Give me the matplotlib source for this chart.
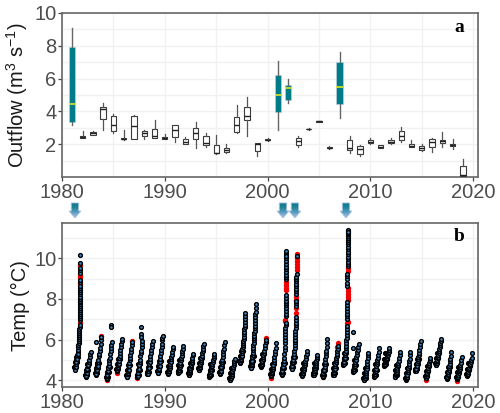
import numpy as np
import matplotlib
matplotlib.use('Agg')
import matplotlib.pyplot as plt
from matplotlib.colors import LinearSegmentedColormap
from matplotlib.patches import Polygon
from matplotlib.transforms import blended_transform_factory

plt.rcParams['font.family'] = ['Liberation Sans', 'DejaVu Sans']
plt.rcParams['mathtext.fontset'] = 'custom'
plt.rcParams['mathtext.rm'] = 'Liberation Sans'
plt.rcParams['mathtext.default'] = 'regular'

# outflow box statistics, one row per year
box_years = list(range(1981, 2020))
whisker_low = [3.2, 2.4, 2.6, 2.85, 2.7, 2.25, 2.3, 2.3, 2.4, 2.3, 2.15, 2.05, 1.8, 1.85, 1.4, 1.5, 2.7, 2.5, 1.3, 2.2,
               2.9, 4.53, 1.84, 2.9, 3.38, 1.7, 3.58, 1.5, 1.3, 2.0, 1.76, 2.04, 2.17, 1.82, 1.62, 1.56, 1.86, 1.7, 0.05]
box_q1 = [3.35, 2.4, 2.6, 3.55, 2.8, 2.3, 2.35, 2.5, 2.4, 2.35, 2.45, 2.05, 2.3, 1.95, 1.45, 1.55, 2.75, 3.5, 1.62, 2.24,
          3.95, 4.7, 1.98, 2.91, 3.39, 1.76, 4.43, 1.66, 1.44, 2.06, 1.78, 2.06, 2.27, 1.84, 1.66, 1.86, 2.06, 1.92, 0.08]
box_med = [4.45, 2.45, 2.7, 4.15, 3.2, 2.35, 3.1, 2.7, 2.5, 2.4, 2.85, 2.15, 2.7, 2.1, 1.5, 1.65, 3.2, 3.75, 2.0, 2.29,
           5.02, 5.43, 2.19, 2.93, 3.4, 1.8, 5.5, 1.78, 1.7, 2.17, 1.86, 2.17, 2.53, 1.92, 1.78, 2.13, 2.19, 1.98, 0.12]
box_q3 = [7.9, 2.5, 2.75, 4.25, 3.75, 2.4, 3.7, 2.8, 2.95, 2.45, 3.15, 2.35, 3.0, 2.5, 1.95, 1.8, 3.65, 4.3, 2.06, 2.33,
          6.23, 5.6, 2.37, 2.96, 3.42, 1.86, 7.0, 2.29, 1.88, 2.25, 1.94, 2.27, 2.79, 2.0, 1.9, 2.33, 2.27, 2.05, 0.67]
whisker_high = [9.1, 2.8, 2.8, 4.5, 3.85, 2.9, 3.8, 2.85, 3.5, 2.65, 3.2, 2.45, 3.35, 2.7, 2.6, 2.0, 4.4, 4.9, 2.1, 2.4,
                7.08, 6.0, 2.5, 2.98, 3.44, 1.92, 7.6, 2.5, 1.96, 2.37, 1.98, 2.41, 3.08, 2.27, 2.0, 2.36, 2.75, 2.3, 1.09]
wet_years = [1981, 2001, 2002, 2007]
arrow_years = [1981.26, 2001.5, 2002.66, 2007.63]

# temperature profiles per year: fraction of the year and temperature
frac_1981 = [.26, .27, .29, .31, .33, .35, .37, .39, .41, .44, .46, .49, .51, .53, .55, .58, .6, .62, .64, .66, .67, .68, .69, .7, .7, .71, .71, .72, .72, .73, .73, .74, .74, .74, .75, .75, .75, .75, .76, .76, .76, .76, .77, .77, .77, .77, .78, .78, .78, .78, .78]
temp_1981 = [4.55, 4.6, 4.52, 4.72, 4.66, 4.85, 4.78, 4.98, 4.92, 5.12, 5.05, 5.22, 5.38, 5.3, 5.5, 5.62, 5.72, 5.82, 5.92, 6.02, 6.12, 6.22, 6.32, 6.42, 6.52, 6.62, 6.7, 6.95, 7.05, 7.15, 7.25, 7.35, 7.45, 7.55, 7.65, 7.74, 7.83, 7.92, 8.02, 8.12, 8.22, 8.32, 8.42, 8.52, 8.62, 8.82, 8.92, 9.28, 9.4, 9.52, 9.76]
frac_1982 = [.33, .34, .36, .37, .39, .41, .43, .45, .47, .5, .53, .56, .6, .64, .7, .75, .79]
temp_1982 = [4.18, 4.26, 4.22, 4.34, 4.42, 4.38, 4.5, 4.6, 4.54, 4.7, 4.8, 4.74, 4.9, 5.02, 5.14, 5.28, 5.41]
frac_1983 = [.3, .31, .33, .34, .36, .38, .41, .43, .46, .49, .52, .56, .6, .65, .7, .75, .8, .83, .3]
temp_1983 = [4.26, 4.34, 4.3, 4.44, 4.54, 4.5, 4.66, 4.74, 4.7, 4.88, 5.02, 5.18, 5.3, 5.46, 5.6, 5.8, 5.98, 6.12, 5.9]
frac_1984 = [.34, .35, .37, .38, .4, .42, .44, .46, .48, .5, .53, .56, .6, .64, .68, .72, .76, .8, .83, .77, .78]
temp_1984 = [4.07, 4.14, 4.1, 4.22, 4.3, 4.26, 4.4, 4.5, 4.44, 4.6, 4.72, 4.84, 4.98, 5.12, 5.28, 5.42, 5.58, 5.74, 5.9, 6.7, 6.6]
frac_1985 = [.35, .36, .38, .39, .41, .43, .45, .47, .5, .53, .56, .6, .64, .68, .72, .76, .8, .83]
temp_1985 = [4.46, 4.52, 4.5, 4.6, 4.68, 4.64, 4.76, 4.86, 4.8, 4.96, 5.08, 5.2, 5.34, 5.48, 5.62, 5.78, 5.92, 6.02]
frac_1986 = [.32, .33, .35, .36, .38, .4, .42, .44, .47, .5, .53, .57, .61, .65, .69, .73, .77, .81]
temp_1986 = [4.15, 4.22, 4.18, 4.3, 4.38, 4.34, 4.48, 4.58, 4.52, 4.7, 4.84, 4.98, 5.1, 5.26, 5.4, 5.56, 5.72, 5.88]
frac_1987 = [.33, .34, .36, .37, .39, .41, .43, .45, .48, .51, .54, .58, .62, .66, .7, .74, .78, .81, .73, .73, .72]
temp_1987 = [4.18, 4.26, 4.22, 4.34, 4.42, 4.38, 4.52, 4.62, 4.56, 4.74, 4.88, 5.02, 5.18, 5.32, 5.46, 5.62, 5.78, 5.93, 6.62, 6.3, 6.14]
frac_1988 = [.3, .31, .33, .34, .36, .38, .4, .42, .45, .48, .52, .56, .6, .65, .7, .74, .78, .82]
temp_1988 = [4.3, 4.36, 4.32, 4.44, 4.5, 4.46, 4.58, 4.66, 4.62, 4.78, 4.9, 5.06, 5.2, 5.34, 5.48, 5.62, 5.78, 5.92]
frac_1989 = [.34, .35, .37, .38, .4, .42, .44, .46, .49, .52, .55, .58, .62, .65, .69, .72, .75, .77, .79]
temp_1989 = [4.34, 4.42, 4.38, 4.5, 4.6, 4.54, 4.68, 4.78, 4.72, 4.9, 5.04, 5.2, 5.36, 5.5, 5.66, 5.8, 5.96, 6.08, 6.2]
frac_1990 = [.31, .32, .34, .35, .37, .39, .41, .43, .46, .49, .52, .56, .6, .64, .68, .72, .76, .79]
temp_1990 = [4.33, 4.4, 4.36, 4.46, 4.52, 4.48, 4.58, 4.66, 4.62, 4.72, 4.82, 4.92, 5.04, 5.14, 5.26, 5.38, 5.52, 5.64]
frac_1991 = [.31, .32, .34, .35, .37, .39, .41, .43, .46, .49, .52, .55, .59, .63, .67, .71, .74, .77]
temp_1991 = [4.38, 4.44, 4.4, 4.5, 4.56, 4.52, 4.6, 4.68, 4.64, 4.76, 4.86, 4.98, 5.08, 5.2, 5.32, 5.44, 5.56, 5.68]
frac_1992 = [.32, .33, .35, .36, .38, .4, .42, .44, .47, .5, .53, .57, .6, .63, .66, .69, .72, .74]
temp_1992 = [4.26, 4.32, 4.28, 4.36, 4.44, 4.4, 4.48, 4.56, 4.52, 4.6, 4.68, 4.76, 4.84, 4.92, 5.02, 5.12, 5.22, 5.31]
frac_1993 = [.32, .33, .35, .36, .38, .4, .42, .44, .47, .5, .53, .56, .6, .64, .68, .72, .76, .81]
temp_1993 = [4.5, 4.56, 4.52, 4.6, 4.68, 4.64, 4.74, 4.82, 4.78, 4.9, 5.0, 5.1, 5.2, 5.32, 5.44, 5.56, 5.68, 5.8]
frac_1994 = [.33, .34, .36, .37, .39, .41, .43, .45, .48, .51, .54, .58, .62, .66, .7, .74, .78, .81]
temp_1994 = [4.18, 4.24, 4.2, 4.28, 4.36, 4.32, 4.42, 4.5, 4.46, 4.56, 4.64, 4.72, 4.82, 4.9, 5.0, 5.1, 5.2, 5.28]
frac_1995 = [.36, .37, .39, .4, .42, .44, .46, .48, .51, .54, .57, .6, .64, .67, .7, .73, .77, .82]
temp_1995 = [4.31, 4.38, 4.34, 4.44, 4.52, 4.48, 4.6, 4.7, 4.64, 4.78, 4.9, 5.02, 5.16, 5.28, 5.42, 5.56, 5.72, 5.87]
frac_1996 = [.34, .35, .37, .38, .4, .42, .44, .46, .49, .52, .55, .58, .62, .66, .7, .74, .78, .82]
temp_1996 = [4.0, 4.06, 4.03, 4.1, 4.16, 4.12, 4.2, 4.26, 4.22, 4.32, 4.4, 4.48, 4.58, 4.66, 4.76, 4.86, 4.96, 5.05]
frac_1997 = [.31, .32, .34, .36, .38, .4, .42, .45, .48, .5, .53, .55, .58, .6, .62, .64, .66, .68, .7, .72, .74, .76, .78, .8, .81, .82, .83]
temp_1997 = [4.84, 4.92, 4.88, 5.0, 5.08, 5.04, 5.16, 5.24, 5.2, 5.34, 5.44, 5.54, 5.64, 5.74, 5.84, 5.94, 6.04, 6.14, 6.26, 6.38, 6.5, 6.62, 6.74, 6.88, 7.02, 7.16, 7.3]
frac_1998 = [.35, .36, .38, .4, .42, .44, .46, .48, .5, .52, .54, .56, .58, .6, .62, .64, .66, .68, .7, .72, .74, .76, .78, .79, .8, .81, .82, .83, .84, .84]
temp_1998 = [4.59, 4.66, 4.62, 4.74, 4.84, 4.78, 4.92, 5.02, 4.96, 5.14, 5.24, 5.36, 5.48, 5.6, 5.72, 5.84, 5.96, 6.08, 6.2, 6.32, 6.44, 6.56, 6.68, 6.82, 6.96, 7.1, 7.24, 7.38, 7.54, 7.76]
frac_1999 = [.36, .37, .39, .4, .42, .44, .46, .48, .5, .53, .56, .6, .64, .68, .72, .76, .8, .84]
temp_1999 = [4.67, 4.72, 4.7, 4.76, 4.84, 4.8, 4.9, 4.98, 4.94, 5.04, 5.14, 5.24, 5.36, 5.46, 5.58, 5.72, 5.86, 5.98]
frac_2000 = [.33, .34, .36, .37, .39, .41, .43, .45, .48, .51, .54, .58, .62, .66, .7, .74, .78, .82]
temp_2000 = [4.22, 4.3, 4.26, 4.36, 4.44, 4.4, 4.5, 4.58, 4.54, 4.66, 4.76, 4.88, 5.0, 5.14, 5.28, 5.44, 5.6, 5.82]
frac_2001 = [.37, .38, .4, .41, .43, .45, .47, .49, .52, .55, .58, .61, .64, .67, .7, .71, .72, .73, .73, .74, .74, .75, .75, .76, .76, .77, .77, .78, .78, .79, .79, .79, .8, .8, .8, .81, .81, .81, .82, .82, .82, .82]
temp_2001 = [4.26, 4.34, 4.3, 4.42, 4.5, 4.46, 4.6, 4.7, 4.64, 4.82, 4.96, 5.12, 5.3, 5.48, 5.66, 5.84, 6.0, 6.14, 6.28, 6.42, 6.56, 6.7, 6.84, 7.14, 7.28, 7.42, 7.55, 7.68, 7.8, 7.92, 8.05, 8.18, 8.96, 9.08, 9.2, 9.33, 9.45, 9.58, 9.72, 9.86, 10.0, 10.14]
frac_2002 = [.34, .35, .37, .38, .4, .42, .44, .46, .49, .52, .55, .58, .61, .64, .66, .67, .68, .69, .7, .71, .72, .73, .74, .75, .76, .76, .77, .77, .78, .78, .79, .79, .8, .8, .81, .81, .82, .83]
temp_2002 = [4.56, 4.62, 4.58, 4.68, 4.76, 4.72, 4.84, 4.92, 4.88, 5.02, 5.14, 5.28, 5.42, 5.58, 5.72, 5.86, 6.0, 6.14, 6.28, 6.42, 6.56, 6.7, 6.84, 6.98, 7.12, 7.66, 7.78, 7.88, 8.26, 8.38, 8.5, 8.62, 8.74, 8.86, 8.98, 9.1, 9.24, 10.12]
frac_2003 = [.35, .36, .38, .39, .41, .43, .45, .47, .5, .53, .56, .6, .64, .68, .72, .76, .8, .83]
temp_2003 = [4.23, 4.28, 4.25, 4.34, 4.4, 4.36, 4.46, 4.54, 4.5, 4.6, 4.68, 4.76, 4.86, 4.96, 5.06, 5.18, 5.3, 5.44]
frac_2004 = [.45, .46, .48, .49, .51, .53, .55, .57, .6, .62, .65, .68, .71, .74, .77, .8, .83]
temp_2004 = [4.26, 4.31, 4.28, 4.36, 4.42, 4.38, 4.48, 4.54, 4.5, 4.6, 4.68, 4.76, 4.86, 4.96, 5.06, 5.16, 5.25]
frac_2005 = [.36, .37, .39, .4, .42, .44, .46, .48, .51, .54, .57, .6, .63, .66, .69, .72, .75, .78, .81]
temp_2005 = [4.18, 4.24, 4.2, 4.3, 4.38, 4.34, 4.46, 4.56, 4.5, 4.66, 4.78, 4.9, 5.04, 5.18, 5.32, 5.46, 5.62, 5.84, 6.05]
frac_2006 = [.39, .4, .42, .43, .45, .47, .49, .51, .54, .57, .6, .63, .66, .69, .72, .75, .78, .81, .84]
temp_2006 = [4.26, 4.32, 4.28, 4.38, 4.46, 4.42, 4.52, 4.6, 4.56, 4.68, 4.78, 4.88, 4.98, 5.08, 5.2, 5.3, 5.42, 5.54, 5.68]
frac_2007 = [.37, .38, .4, .41, .43, .45, .47, .49, .52, .55, .58, .6, .62, .64, .66, .67, .68, .69, .7, .71, .72, .72, .73, .73, .74, .74, .75, .75, .75, .76, .76, .77, .77, .78, .78, .79, .79, .8, .8, .81, .81, .81, .82, .82, .82, .83, .83, .83, .83, .83, .83]
temp_2007 = [4.75, 4.82, 4.78, 4.88, 4.96, 4.92, 5.04, 5.12, 5.08, 5.22, 5.34, 5.46, 5.58, 5.7, 5.82, 5.96, 6.1, 6.24, 6.38, 6.52, 6.66, 7.0, 7.14, 7.28, 7.42, 7.56, 7.7, 7.84, 8.65, 8.78, 9.0, 9.12, 9.22, 9.6, 9.72, 9.84, 9.96, 10.08, 10.2, 10.32, 10.44, 10.56, 10.68, 10.8, 10.92, 11.02, 11.1, 11.18, 11.26, 11.33, 11.38]
frac_2008 = [.34, .35, .37, .38, .4, .42, .44, .46, .49, .52, .55, .58, .62, .66, .7, .75, .8, .85, .34, .35]
temp_2008 = [4.42, 4.48, 4.44, 4.54, 4.6, 4.56, 4.66, 4.74, 4.7, 4.82, 4.92, 5.02, 5.14, 5.26, 5.38, 5.5, 5.64, 5.79, 6.39, 5.58]
frac_2009 = [.39, .4, .42, .43, .45, .47, .49, .51, .54, .57, .6, .63, .66, .69, .72, .75, .78, .8]
temp_2009 = [4.0, 4.06, 4.02, 4.1, 4.16, 4.12, 4.22, 4.3, 4.26, 4.36, 4.46, 4.56, 4.68, 4.8, 4.94, 5.08, 5.22, 5.33]
frac_2010 = [.38, .39, .41, .42, .44, .46, .48, .5, .53, .56, .59, .62, .65, .68, .71, .75, .8, .84]
temp_2010 = [4.18, 4.24, 4.2, 4.3, 4.36, 4.32, 4.42, 4.5, 4.46, 4.58, 4.68, 4.78, 4.88, 4.98, 5.08, 5.22, 5.4, 5.57]
frac_2011 = [.35, .36, .38, .4, .42, .44, .46, .5, .54, .58, .62, .66, .7, .74, .78, .82, .86]
temp_2011 = [4.72, 4.76, 4.74, 4.8, 4.84, 4.82, 4.88, 4.94, 5.0, 5.06, 5.12, 5.2, 5.26, 5.32, 5.4, 5.48, 5.57]
frac_2012 = [.41, .42, .44, .45, .47, .49, .51, .53, .56, .59, .62, .65, .68, .72, .76, .8, .85, .9]
temp_2012 = [4.16, 4.22, 4.18, 4.26, 4.34, 4.3, 4.38, 4.46, 4.42, 4.52, 4.6, 4.68, 4.76, 4.86, 4.96, 5.08, 5.22, 5.38]
frac_2013 = [.45, .46, .48, .49, .51, .53, .55, .57, .6, .63, .66, .69, .72, .75, .78, .82, .86, .9]
temp_2013 = [4.02, 4.08, 4.05, 4.12, 4.18, 4.14, 4.24, 4.32, 4.28, 4.4, 4.5, 4.6, 4.7, 4.82, 4.94, 5.06, 5.22, 5.41]
frac_2014 = [.39, .4, .42, .43, .45, .47, .49, .51, .54, .57, .6, .63, .66, .69, .72, .76, .8, .84, .88]
temp_2014 = [4.46, 4.52, 4.48, 4.56, 4.62, 4.58, 4.68, 4.76, 4.72, 4.84, 4.94, 5.04, 5.14, 5.24, 5.36, 5.48, 5.62, 5.78, 5.93]
frac_2015 = [.4, .41, .43, .44, .46, .48, .5, .52, .55, .58, .61, .64, .67, .7, .73, .76, .79, .82]
temp_2015 = [4.1, 4.16, 4.13, 4.2, 4.26, 4.22, 4.3, 4.38, 4.34, 4.44, 4.52, 4.6, 4.68, 4.76, 4.84, 4.94, 5.02, 5.11]
frac_2016 = [.37, .38, .4, .42, .44, .46, .48, .5, .53, .56, .59, .62, .65, .68, .71, .74, .77, .8, .83, .86]
temp_2016 = [4.75, 4.8, 4.77, 4.84, 4.9, 4.86, 4.94, 5.02, 4.98, 5.08, 5.16, 5.24, 5.34, 5.44, 5.52, 5.62, 5.72, 5.82, 5.92, 6.02]
frac_2017 = [.41, .42, .44, .45, .47, .49, .51, .53, .56, .59, .62, .65, .68, .71, .74, .78, .82, .86]
temp_2017 = [4.07, 4.12, 4.09, 4.16, 4.22, 4.18, 4.28, 4.36, 4.32, 4.42, 4.52, 4.62, 4.72, 4.82, 4.94, 5.06, 5.2, 5.38]
frac_2018 = [.41, .42, .44, .45, .47, .49, .51, .53, .56, .59, .62, .65, .68, .71, .75, .79, .84, .9]
temp_2018 = [4.07, 4.12, 4.09, 4.16, 4.22, 4.18, 4.26, 4.32, 4.28, 4.38, 4.44, 4.5, 4.58, 4.66, 4.76, 4.86, 5.0, 5.16]
frac_2019 = [.38, .39, .41, .42, .44, .46, .48, .5, .53, .56, .59, .62, .65, .69, .73, .77, .82, .87, .86]
temp_2019 = [4.23, 4.28, 4.25, 4.31, 4.36, 4.33, 4.4, 4.46, 4.42, 4.5, 4.56, 4.62, 4.68, 4.74, 4.8, 4.88, 4.98, 5.08, 5.33]

frac_lists = [frac_1981, frac_1982, frac_1983, frac_1984, frac_1985, frac_1986, frac_1987, frac_1988, frac_1989, frac_1990,
              frac_1991, frac_1992, frac_1993, frac_1994, frac_1995, frac_1996, frac_1997, frac_1998, frac_1999, frac_2000,
              frac_2001, frac_2002, frac_2003, frac_2004, frac_2005, frac_2006, frac_2007, frac_2008, frac_2009, frac_2010,
              frac_2011, frac_2012, frac_2013, frac_2014, frac_2015, frac_2016, frac_2017, frac_2018, frac_2019]
temp_lists = [temp_1981, temp_1982, temp_1983, temp_1984, temp_1985, temp_1986, temp_1987, temp_1988, temp_1989, temp_1990,
              temp_1991, temp_1992, temp_1993, temp_1994, temp_1995, temp_1996, temp_1997, temp_1998, temp_1999, temp_2000,
              temp_2001, temp_2002, temp_2003, temp_2004, temp_2005, temp_2006, temp_2007, temp_2008, temp_2009, temp_2010,
              temp_2011, temp_2012, temp_2013, temp_2014, temp_2015, temp_2016, temp_2017, temp_2018, temp_2019]

# second column of winter observations, which overlap into a solid band
side_dates = [1981.2, 1981.28, 1981.36, 1981.4, 1981.48, 1981.56, 1982.27, 1982.35, 1982.43, 1982.47, 1982.55, 1982.63,
              1983.24, 1983.32, 1983.4, 1983.44, 1983.52, 1983.6, 1984.28, 1984.36, 1984.44, 1984.48, 1984.56, 1984.64,
              1985.29, 1985.37, 1985.45, 1985.49, 1985.57, 1985.65, 1986.26, 1986.34, 1986.42, 1986.46, 1986.54, 1986.62,
              1987.27, 1987.35, 1987.43, 1987.47, 1987.55, 1987.63, 1988.24, 1988.32, 1988.4, 1988.44, 1988.52, 1988.6,
              1989.28, 1989.36, 1989.44, 1989.48, 1989.56, 1989.64, 1990.25, 1990.33, 1990.41, 1990.45, 1990.53, 1990.61,
              1991.25, 1991.33, 1991.41, 1991.45, 1991.53, 1991.61, 1992.26, 1992.34, 1992.42, 1992.46, 1992.54, 1992.62,
              1993.26, 1993.34, 1993.42, 1993.46, 1993.54, 1993.62, 1994.27, 1994.35, 1994.43, 1994.47, 1994.55, 1994.63,
              1995.3, 1995.38, 1995.46, 1995.5, 1995.58, 1995.66, 1996.28, 1996.36, 1996.44, 1996.48, 1996.56, 1996.64,
              1997.25, 1997.33, 1997.41, 1997.45, 1997.53, 1997.61, 1998.29, 1998.37, 1998.45, 1998.49, 1998.57, 1998.65,
              1999.3, 1999.38, 1999.46, 1999.5, 1999.58, 1999.66, 2000.27, 2000.35, 2000.43, 2000.47, 2000.55, 2000.63,
              2001.31, 2001.39, 2001.47, 2001.51, 2001.59, 2001.67, 2002.28, 2002.36, 2002.44, 2002.48, 2002.56, 2002.64,
              2003.29, 2003.37, 2003.45, 2003.49, 2003.57, 2003.65, 2004.39, 2004.47, 2004.55, 2004.59, 2004.67, 2004.75,
              2005.3, 2005.38, 2005.46, 2005.5, 2005.58, 2005.66, 2006.33, 2006.41, 2006.49, 2006.53, 2006.61, 2006.69,
              2007.31, 2007.39, 2007.47, 2007.51, 2007.59, 2007.67, 2008.28, 2008.36, 2008.44, 2008.48, 2008.56, 2008.64,
              2009.33, 2009.41, 2009.49, 2009.53, 2009.61, 2009.69, 2010.32, 2010.4, 2010.48, 2010.52, 2010.6, 2010.68,
              2011.29, 2011.37, 2011.45, 2011.49, 2011.57, 2011.65, 2012.35, 2012.43, 2012.51, 2012.55, 2012.63, 2012.71,
              2013.39, 2013.47, 2013.55, 2013.59, 2013.67, 2013.75, 2014.33, 2014.41, 2014.49, 2014.53, 2014.61, 2014.69,
              2015.34, 2015.42, 2015.5, 2015.54, 2015.62, 2015.7, 2016.31, 2016.39, 2016.47, 2016.51, 2016.59, 2016.67,
              2017.35, 2017.43, 2017.51, 2017.55, 2017.63, 2017.71, 2018.35, 2018.43, 2018.51, 2018.55, 2018.63, 2018.71,
              2019.32, 2019.4, 2019.48, 2019.52, 2019.6, 2019.68]
side_temps = [4.65, 4.9, 5.15, 4.65, 4.9, 5.15, 4.28, 4.53, 4.78, 4.28, 4.53, 4.78,
              4.36, 4.61, 4.86, 4.36, 4.61, 4.86, 4.17, 4.42, 4.67, 4.17, 4.42, 4.67,
              4.56, 4.81, 5.06, 4.56, 4.81, 5.06, 4.25, 4.5, 4.75, 4.25, 4.5, 4.75,
              4.28, 4.53, 4.78, 4.28, 4.53, 4.78, 4.4, 4.65, 4.9, 4.4, 4.65, 4.9,
              4.44, 4.69, 4.94, 4.44, 4.69, 4.94, 4.43, 4.68, 4.93, 4.43, 4.68, 4.93,
              4.48, 4.73, 4.98, 4.48, 4.73, 4.98, 4.36, 4.61, 4.86, 4.36, 4.61, 4.86,
              4.6, 4.85, 5.1, 4.6, 4.85, 5.1, 4.28, 4.53, 4.78, 4.28, 4.53, 4.78,
              4.41, 4.66, 4.91, 4.41, 4.66, 4.91, 4.1, 4.35, 4.6, 4.1, 4.35, 4.6,
              4.94, 5.19, 5.44, 4.94, 5.19, 5.44, 4.69, 4.94, 5.19, 4.69, 4.94, 5.19,
              4.77, 5.02, 5.27, 4.77, 5.02, 5.27, 4.32, 4.57, 4.82, 4.32, 4.57, 4.82,
              4.36, 4.61, 4.86, 4.36, 4.61, 4.86, 4.66, 4.91, 5.16, 4.66, 4.91, 5.16,
              4.33, 4.58, 4.83, 4.33, 4.58, 4.83, 4.36, 4.61, 4.86, 4.36, 4.61, 4.86,
              4.28, 4.53, 4.78, 4.28, 4.53, 4.78, 4.36, 4.61, 4.86, 4.36, 4.61, 4.86,
              4.85, 5.1, 5.35, 4.85, 5.1, 5.35, 4.52, 4.77, 5.02, 4.52, 4.77, 5.02,
              4.1, 4.35, 4.6, 4.1, 4.35, 4.6, 4.28, 4.53, 4.78, 4.28, 4.53, 4.78,
              4.82, 5.07, 5.32, 4.82, 5.07, 5.32, 4.26, 4.51, 4.76, 4.26, 4.51, 4.76,
              4.12, 4.37, 4.62, 4.12, 4.37, 4.62, 4.56, 4.81, 5.06, 4.56, 4.81, 5.06,
              4.2, 4.45, 4.7, 4.2, 4.45, 4.7, 4.85, 5.1, 5.35, 4.85, 5.1, 5.35,
              4.17, 4.42, 4.67, 4.17, 4.42, 4.67, 4.17, 4.42, 4.67, 4.17, 4.42, 4.67,
              4.33, 4.58, 4.83, 4.33, 4.58, 4.83]

# extra observations at the top of the spikes
top_dates = [1981.78, 2001.82, 2001.82, 2001.82, 2007.83]
top_temps = [10.16, 10.24, 10.34, 10.1, 11.3]

# second series, mostly hidden under the first one
red_dates = [1981.78, 1981.78, 1981.78, 1981.78, 1981.72, 2001.81, 2001.81, 2001.8, 2001.8, 2001.74, 2001.73,
             2002.83, 2002.83, 2002.83, 2002.83, 2002.83, 2002.83, 2002.78, 2002.78, 2002.77, 2002.77,
             2007.82, 2007.82, 2007.81, 2007.81, 2007.8, 2007.8, 2007.8, 2007.79, 2007.73, 1984.34, 1985.35, 1986.8,
             1987.33, 1999.84, 1999.8, 2000.33, 2005.36, 2006.84, 2006.8, 2015.4, 2018.41, 1983.82]
red_temps = [9.66, 9.18, 9.06, 8.72, 6.82, 8.84, 8.7, 8.56, 8.44, 6.98, 6.92,
             10.2, 10.0, 9.85, 9.7, 9.55, 9.4, 8.1, 7.96, 7.55, 7.32,
             9.5, 9.36, 8.55, 8.4, 8.25, 8.1, 7.96, 6.88, 6.8, 4.02, 4.36, 5.92,
             4.12, 6.08, 5.9, 4.12, 4.14, 5.84, 5.62, 4.02, 3.99, 6.16]

year_ticks = [1980, 1990, 2000, 2010, 2020]
year_minor = [1985, 1995, 2005, 2015]
flow_ticks = [2, 4, 6, 8, 10]
flow_minor = [1, 3, 5, 7, 9]
temp_ticks = [4, 6, 8, 10]
temp_minor = [5, 7, 9, 11]

fig = plt.figure(figsize=(5.0, 4.13), dpi=100)
ax_a = fig.add_axes([62 / 500, 1 - 177.3 / 413, 416.3 / 500, 164.6 / 413])
ax_b = fig.add_axes([62 / 500, 1 - 387.3 / 413, 416.3 / 500, 164 / 413])

# panel a: yearly outflow boxes
stats_plain, stats_wet = [], []
for i, yr in enumerate(box_years):
    st = dict(med=box_med[i], q1=box_q1[i], q3=box_q3[i], whislo=whisker_low[i], whishi=whisker_high[i], fliers=[])
    (stats_wet if yr in wet_years else stats_plain).append(st)
plain_pos = [y for y in box_years if y not in wet_years]

ax_a.bxp(stats_plain, positions=plain_pos, widths=0.52, showcaps=False, showfliers=False, manage_ticks=False,
         patch_artist=True, zorder=3,
         boxprops=dict(facecolor='white', edgecolor='#3a3a3a', linewidth=0.8),
         medianprops=dict(color='#222222', linewidth=1.0),
         whiskerprops=dict(color='#555555', linewidth=0.9))
ax_a.bxp(stats_wet, positions=wet_years, widths=0.62, showcaps=False, showfliers=False, manage_ticks=False,
         patch_artist=True, zorder=3,
         boxprops=dict(facecolor='#007c88', edgecolor='#b5cfe0', linewidth=0.5),
         medianprops=dict(color='#f2ee1e', linewidth=1.1),
         whiskerprops=dict(color='#666666', linewidth=1.0))
ax_a.set_ylim(0, 10)
ax_a.set_yticks(flow_ticks)
ax_a.set_yticks(flow_minor, minor=True)
ax_a.set_ylabel('Outflow (m$^{3}$ s$^{-1}$)', fontsize=14.5, color='#1a1a1a', labelpad=3)
ax_a.text(0.955, 0.91, 'a', transform=ax_a.transAxes, family='Liberation Serif', fontweight='bold',
          fontsize=14, ha='center', va='center')

# panel b: temperature observations
ax_b.scatter(red_dates, red_temps, s=15, color='#f00000', linewidths=0, zorder=2)
ax_b.scatter(side_dates, side_temps, s=7.5, facecolor='black', edgecolor='black', linewidths=1.0, zorder=3)
for yr, fr, tt in zip(box_years, frac_lists, temp_lists):
    ax_b.scatter(yr + np.array(fr), tt, s=7.5, facecolor='#3f86c4', edgecolor='black', linewidths=1.0, zorder=3)
ax_b.scatter(top_dates, top_temps, s=7.5, facecolor='#3f86c4', edgecolor='black', linewidths=1.0, zorder=3)
ax_b.set_ylim(3.656, 11.72)
ax_b.set_yticks(temp_ticks)
ax_b.set_yticks(temp_minor, minor=True)
ax_b.set_ylabel('Temp (°C)', fontsize=14.5, color='#1a1a1a', labelpad=3)
ax_b.text(0.955, 0.92, 'b', transform=ax_b.transAxes, family='Liberation Serif', fontweight='bold',
          fontsize=14, ha='center', va='center')

for ax in (ax_a, ax_b):
    ax.set_xticks(year_ticks)
    ax.set_xticks(year_minor, minor=True)
    ax.grid(which='both', color='#f1f1f1', linewidth=1.0, zorder=0)
    ax.set_axisbelow(True)
    ax.tick_params(which='major', labelsize=14.5, labelcolor='#4d4d4d', color='#444444', length=3, width=0.9, pad=1)
    ax.tick_params(which='minor', length=0)
    for sp in ax.spines.values():
        sp.set_color('#666666')
        sp.set_linewidth(1.2)

# release arrows above panel b, filled with a vertical gradient
arrow_cmap = LinearSegmentedColormap.from_list('arrow', ['#0b7886', '#1f8496', '#5f9fc0', '#a8c4e8'])
gradient = np.linspace(0, 1, 64).reshape(-1, 1)
arrow_trans = blended_transform_factory(ax_b.transData, ax_b.transAxes)
y_top, y_neck, y_tip = 1.124, 1.075, 1.032
for yr in arrow_years:
    corners = [(yr - 0.36, y_top), (yr + 0.36, y_top), (yr + 0.36, y_neck), (yr + 0.58, y_neck),
               (yr, y_tip), (yr - 0.58, y_neck), (yr - 0.36, y_neck)]
    im = ax_b.imshow(gradient, cmap=arrow_cmap, aspect='auto', origin='upper', transform=arrow_trans,
                     extent=(yr - 0.58, yr + 0.58, y_tip, y_top), zorder=5)
    im.set_clip_path(Polygon(corners, transform=arrow_trans))
    im.set_clip_box(fig.bbox)
    ax_b.add_patch(Polygon(corners, transform=arrow_trans, facecolor='none', edgecolor='#a9c3e4',
                           linewidth=0.6, clip_on=False, zorder=6))

for ax in (ax_a, ax_b):
    ax.set_xlim(1980, 2020.5)
ax_a.set_ylim(0, 10)
ax_b.set_ylim(3.656, 11.72)

fig.savefig('out.png', dpi=100)
